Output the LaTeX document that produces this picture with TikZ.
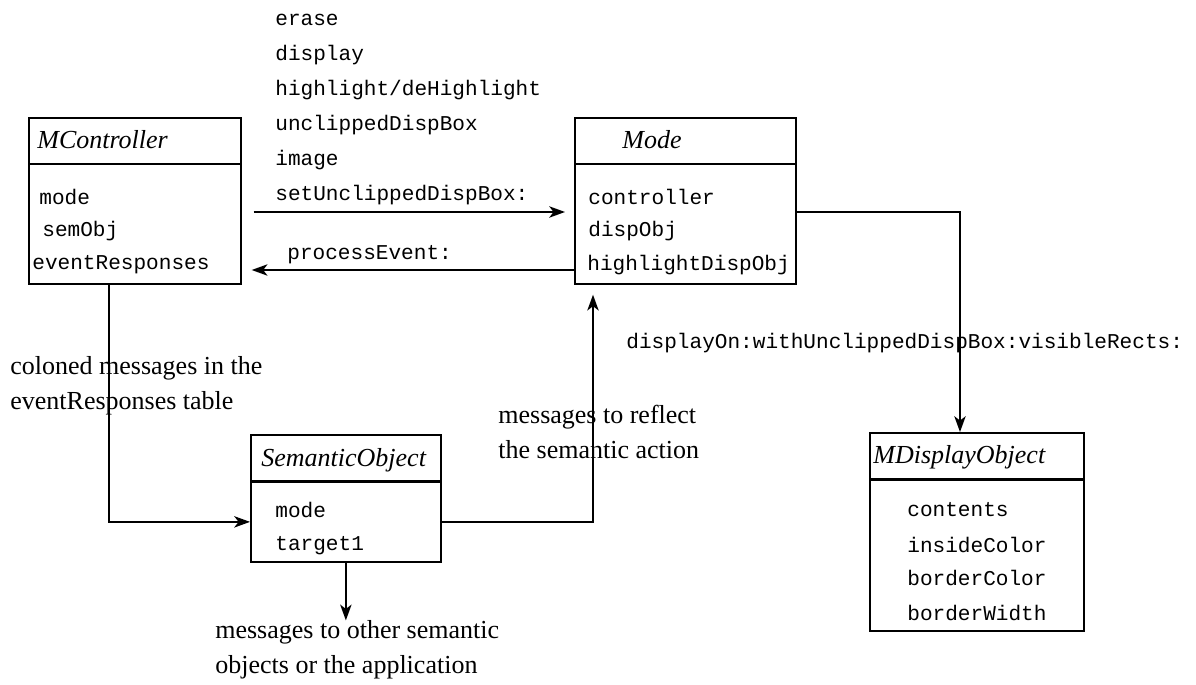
\documentclass[tikz,border=0pt]{standalone}
\usepackage{fontspec}
\setmainfont{Liberation Serif}
\setmonofont{Liberation Mono}
\usetikzlibrary{arrows.meta}

\begin{document}
\begin{tikzpicture}[
  x=0.02cm, y=-0.02cm,
  clshead/.style={draw, line width=1pt, anchor=north west, minimum height=0.93cm, inner sep=0pt},
  clsbody/.style={draw, line width=1pt, anchor=north west, inner sep=0pt},
  clsname/.style={anchor=west, inner sep=0pt, font=\fontsize{14.8}{18}\selectfont\itshape},
  attr/.style={anchor=west, inner sep=0pt, font=\fontsize{12}{14}\selectfont\ttfamily},
  note/.style={anchor=west, inner sep=0pt, align=left, font=\fontsize{14.8}{19.9}\selectfont},
  arr/.style={-{Stealth[length=9pt, width=6.5pt, inset=2.5pt]}, line width=1pt}
]
  \useasboundingbox (0,0) rectangle (1196,685);

  % class boxes
  \node[clshead, minimum width=4.24cm] (mc-head) at (28,117) {};
  \node[clsbody, minimum width=4.24cm, minimum height=2.40cm] (mc-body) at (28,163) {};
  \node[clsname] (mc-name) at (37,140) {MController};
  \node[attr] (mc-mode) at (39,197) {mode};
  \node[attr] (mc-sem) at (42,231) {semObj};
  \node[attr] (mc-resp) at (32,265) {eventResponses};

  \node[clshead, minimum width=4.42cm] (mode-head) at (574,117) {};
  \node[clsbody, minimum width=4.42cm, minimum height=2.40cm] (mode-body) at (574,163) {};
  \node[clsname] (mode-name) at (622,140) {Mode};
  \node[attr] (mode-ctrl) at (588,197) {controller};
  \node[attr] (mode-disp) at (588,231) {dispObj};
  \node[attr] (mode-high) at (587,265) {highlightDispObj};

  \node[clshead, minimum width=3.80cm] (so-head) at (250,434) {};
  \node[clsbody, minimum width=3.80cm, minimum height=1.60cm] (so-body) at (250,481) {};
  \node[clsname] (so-name) at (261,460) {SemanticObject};
  \node[attr] (so-mode) at (275,510) {mode};
  \node[attr] (so-target) at (275,546) {target1};

  \node[clshead, minimum width=4.28cm] (md-head) at (869,432) {};
  \node[clsbody, minimum width=4.28cm, minimum height=3.02cm] (md-body) at (869,479) {};
  \node[clsname] (md-name) at (873,457) {MDisplayObject};
  \node[attr] (md-cont) at (907,510) {contents};
  \node[attr] (md-inside) at (907,545) {insideColor};
  \node[attr] (md-bcolor) at (907,578) {borderColor};
  \node[attr] (md-bwidth) at (907,613) {borderWidth};

  % messages
  \node[attr] (m-erase) at (275,20) {erase};
  \node[attr] (m-display) at (275,55) {display};
  \node[attr] (m-high) at (275,90) {highlight/deHighlight};
  \node[attr] (m-unclip) at (275,125) {unclippedDispBox};
  \node[attr] (m-image) at (275,160) {image};
  \node[attr] (m-setunclip) at (275,195) {setUnclippedDispBox:};
  \node[attr] (m-proc) at (287,255) {processEvent:};
  \node[attr] (m-dispon) at (626,343) {displayOn:withUnclippedDispBox:visibleRects:};

  \node[note] (colonmsg) at (10,386) {coloned messages in the\\eventResponses table};
  \node[note] (reflectmsg) at (498,432) {messages to reflect\\the semantic action};
  \node[note] (othermsg) at (215,650) {messages to other semantic\\objects or the application};

  % connectors
  \coordinate (setrow) at (0,212);
  \coordinate (procrow) at (0,270);
  \coordinate (leftcol) at (109,0);
  \coordinate (upcol) at (593,0);
  \coordinate (downcol) at (960,0);

  \draw[arr, shorten <=0.24cm, shorten >=0.18cm] (mc-body.east |- setrow) -- (mode-body.west |- setrow);
  \draw[arr, shorten >=0.2cm] (mode-body.west |- procrow) -- (mc-body.east |- procrow);
  \draw[arr] (mode-body.east |- setrow) -| (md-head.north -| downcol);
  \draw[arr] (mc-body.south -| leftcol) |- (so-body.west);
  \draw[arr, shorten >=0.2cm] (so-body.east) -| (mode-body.south -| upcol);
  \draw[arr] (so-body.south) -- (othermsg.north -| so-body.south);
\end{tikzpicture}
\end{document}
